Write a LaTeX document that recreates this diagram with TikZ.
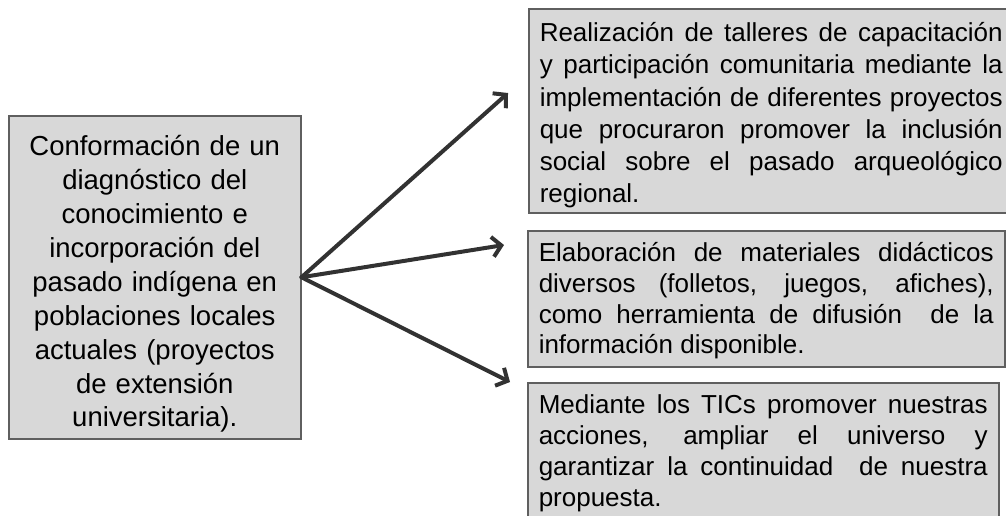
\documentclass[tikz,border=0pt]{standalone}
\usepackage{fontspec}
\setmainfont{Liberation Sans}
\usetikzlibrary{arrows.meta}
\definecolor{boxfill}{RGB}{216,216,216}
\definecolor{boxline}{RGB}{95,95,95}
\definecolor{arrowgray}{RGB}{50,50,50}
\hyphenpenalty=10000
\exhyphenpenalty=10000

\begin{document}
\begin{tikzpicture}[x=1pt, y=-1pt,
	box/.style={draw=boxline, line width=1.5pt, fill=boxfill, inner xsep=11pt, inner ysep=0pt,
		font=\fontsize{26}{31}\selectfont, align=justify, anchor=north west,
		text height=31pt, text depth=105pt},
	link/.style={draw=arrowgray, line width=4pt, line cap=round,
		-{Straight Barb[length=9pt, width=20pt, line width=4pt]}}]
		
		\useasboundingbox (0,0) rectangle (1006,515);
		
		\node[draw=boxline, line width=1.5pt, fill=boxfill, minimum width=292pt, inner ysep=0pt,
			text height=40pt, text depth=283pt, anchor=north west,
			text width=270pt, align=center, font=\fontsize{27.5}{33.9}\selectfont] (diag) at (8,115)
			{Conformación de un\\ diagnóstico del\\ conocimiento e\\ incorporación del\\ pasado indígena en\\
			poblaciones locales\\ actuales (proyectos\\ de extensión\\ universitaria).};
		
		\node[box, text width=463pt, text height=32.7pt, text depth=171.3pt,
			font=\fontsize{26}{32.3}\selectfont] (talleres) at (528,8)
			{Realización de talleres de capacitación\linebreak y participación comunitaria mediante la\linebreak
			implementación de diferentes proyectos\linebreak que procuraron promover la inclusión\linebreak
			social sobre el pasado arqueológico\linebreak regional.};
		\node[box, text width=455pt, font=\fontsize{26}{30.7}\selectfont] (materiales) at (527,230)
			{Elaboración de materiales didácticos\linebreak diversos (folletos, juegos, afiches),\linebreak
			como herramienta de difusión\ \ de la\linebreak información disponible.};
		\node[box, text width=449pt] (tics) at (527,382)
			{Mediante los TICs promover nuestras\linebreak acciones, ampliar el universo y\linebreak
			garantizar la continuidad\ \ de nuestra\linebreak propuesta.};
		
		%%%%% Arrows %%%%%%
		\coordinate (tipA) at (508,93);
		\coordinate (tipB) at (504,245);
		\coordinate (tipC) at (510,382);
		\draw[link] (diag.east)--(tipA);
		\draw[link] (diag.east)--(tipB);
		\draw[link] (diag.east)--(tipC);
		
\end{tikzpicture}
\end{document}
